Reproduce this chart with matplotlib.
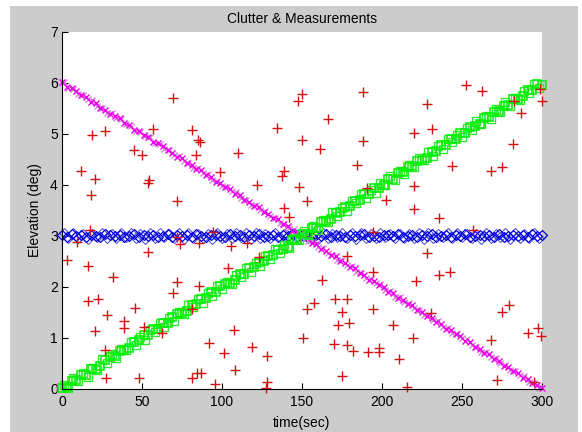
import matplotlib.pyplot as plt
from matplotlib.patches import Rectangle

plt.rcParams['font.family'] = ['Liberation Sans', 'DejaVu Sans']

# sample times (sec): measurement scans and the interleaved estimates
t = list(range(0, 301, 3))
t2 = list(range(1, 300, 3))

# rising target (green squares)
elev_up = [0.02, 0.04, 0.15, 0.17, 0.27, 0.28, 0.39, 0.40, 0.45, 0.57,
           0.62, 0.64, 0.75, 0.76, 0.81, 0.93, 0.95, 1.05, 1.06, 1.17,
           1.18, 1.29, 1.30, 1.41, 1.47, 1.48, 1.53, 1.65, 1.66, 1.77,
           1.78, 1.89, 1.90, 2.01, 2.06, 2.08, 2.13, 2.25, 2.26, 2.37,
           2.38, 2.49, 2.50, 2.61, 2.62, 2.73, 2.75, 2.79, 2.91, 2.92,
           3.03, 3.04, 3.15, 3.16, 3.27, 3.28, 3.33, 3.45, 3.46, 3.57,
           3.58, 3.69, 3.70, 3.81, 3.82, 3.93, 3.94, 3.99, 4.11, 4.12,
           4.23, 4.24, 4.35, 4.36, 4.47, 4.48, 4.53, 4.65, 4.66, 4.77,
           4.78, 4.89, 4.90, 5.01, 5.02, 5.13, 5.14, 5.19, 5.31, 5.32,
           5.43, 5.44, 5.55, 5.56, 5.67, 5.68, 5.73, 5.85, 5.86, 5.97,
           5.96]
elev_up2 = [0.07, 0.02, 0.21, 0.16, 0.32, 0.24, 0.42, 0.38, 0.58, 0.51,
            0.68, 0.61, 0.79, 0.76, 0.93, 0.86, 1.02, 0.96, 1.16, 1.11,
            1.30, 1.22, 1.39, 1.33, 1.50, 1.46, 1.65, 1.60, 1.76, 1.68,
            1.87, 1.82, 2.02, 1.95, 2.10, 2.05, 2.24, 2.20, 2.37, 2.30,
            2.47, 2.40, 2.60, 2.55, 2.74, 2.66, 2.82, 2.77, 2.95, 2.92,
            3.09, 3.02, 3.20, 3.12, 3.30, 3.27, 3.46, 3.38, 3.55, 3.49,
            3.68, 3.64, 3.81, 3.74, 3.90, 3.84, 4.04, 3.99, 4.18, 4.10,
            4.27, 4.21, 4.38, 4.34, 4.53, 4.48, 4.64, 4.56, 4.75, 4.70,
            4.90, 4.83, 4.98, 4.93, 5.12, 5.08, 5.25, 5.18, 5.35, 5.28,
            5.48, 5.43, 5.62, 5.54, 5.70, 5.65, 5.83, 5.80, 5.97, 5.90]

# falling target (magenta x)
elev_down = [6.01, 5.92, 5.89, 5.84, 5.75, 5.71, 5.62, 5.60, 5.51, 5.47,
             5.38, 5.35, 5.30, 5.21, 5.17, 5.08, 5.06, 4.97, 4.93, 4.84,
             4.81, 4.76, 4.67, 4.63, 4.54, 4.52, 4.43, 4.39, 4.30, 4.28,
             4.19, 4.15, 4.06, 4.04, 3.95, 3.91, 3.82, 3.80, 3.71, 3.67,
             3.58, 3.56, 3.47, 3.43, 3.34, 3.32, 3.23, 3.19, 3.10, 3.08,
             2.99, 2.95, 2.86, 2.84, 2.75, 2.71, 2.62, 2.60, 2.51, 2.47,
             2.38, 2.36, 2.27, 2.23, 2.14, 2.12, 2.03, 1.99, 1.90, 1.88,
             1.79, 1.75, 1.66, 1.64, 1.55, 1.51, 1.42, 1.40, 1.31, 1.27,
             1.18, 1.16, 1.07, 1.03, 0.94, 0.92, 0.83, 0.79, 0.70, 0.68,
             0.59, 0.55, 0.46, 0.44, 0.35, 0.31, 0.22, 0.20, 0.11, 0.07,
             0.02]
elev_down2 = [6.01, 5.90, 5.87, 5.77, 5.76, 5.67, 5.65, 5.54, 5.51, 5.41,
              5.40, 5.31, 5.29, 5.18, 5.15, 5.05, 5.04, 4.95, 4.93, 4.82,
              4.79, 4.69, 4.68, 4.59, 4.57, 4.46, 4.43, 4.33, 4.32, 4.23,
              4.21, 4.10, 4.07, 3.97, 3.96, 3.87, 3.85, 3.74, 3.71, 3.61,
              3.60, 3.51, 3.49, 3.38, 3.35, 3.25, 3.24, 3.15, 3.13, 3.02,
              2.99, 2.89, 2.88, 2.79, 2.77, 2.66, 2.63, 2.53, 2.52, 2.43,
              2.41, 2.30, 2.27, 2.17, 2.16, 2.07, 2.05, 1.94, 1.91, 1.81,
              1.80, 1.71, 1.69, 1.58, 1.55, 1.45, 1.44, 1.35, 1.33, 1.22,
              1.19, 1.09, 1.08, 0.99, 0.97, 0.86, 0.83, 0.73, 0.72, 0.63,
              0.61, 0.50, 0.47, 0.37, 0.36, 0.27, 0.25, 0.14, 0.11, 0.01]

# level target (blue diamonds)
elev_flat = [3.02, 2.98, 3.03, 2.99, 3.01, 2.97, 3.02, 3.00, 2.98, 3.03,
             3.01, 2.99, 3.02, 2.97, 3.00, 3.03, 2.98, 3.01, 2.99, 3.02,
             2.98, 3.00, 3.03, 2.97, 3.01, 2.99, 3.02, 2.98, 3.03, 3.00,
             2.97, 3.01, 3.02, 2.99, 2.98, 3.03, 3.00, 3.01, 2.97, 3.02,
             2.99, 3.03, 2.98, 3.00, 3.01, 2.97, 3.02, 2.99, 3.03, 2.98,
             3.01, 3.00, 2.97, 3.02, 2.99, 3.03, 2.98, 3.01, 3.00, 2.97,
             3.02, 2.99, 3.01, 3.03, 2.98, 3.00, 2.97, 3.02, 3.01, 2.99,
             3.03, 2.98, 3.00, 3.02, 2.97, 3.01, 2.99, 3.03, 2.98, 3.00,
             3.02, 2.97, 3.01, 2.99, 3.03, 2.98, 3.00, 3.02, 2.99, 3.01,
             2.97, 3.03, 2.98, 3.00, 3.02, 2.99, 3.01, 2.98, 3.03, 3.00,
             3.01]
elev_flat2 = [3.05, 2.96, 3.06, 2.95, 3.03, 2.94, 3.04, 2.97, 3.06, 2.95,
              3.04, 2.95, 3.05, 2.97, 3.06, 2.96, 3.03, 2.94, 3.05, 2.96,
              3.06, 2.97, 3.04, 2.95, 3.05, 2.94, 3.06, 2.96, 3.03, 2.95,
              3.03, 2.94, 3.06, 2.96, 3.04, 2.95, 3.05, 2.97, 3.06, 2.94,
              3.05, 2.96, 3.03, 2.95, 3.06, 2.97, 3.04, 2.94, 3.05, 2.96,
              3.04, 2.95, 3.06, 2.94, 3.05, 2.96, 3.03, 2.97, 3.06, 2.95,
              3.06, 2.94, 3.05, 2.96, 3.03, 2.95, 3.06, 2.97, 3.04, 2.96,
              3.03, 2.96, 3.04, 2.95, 3.06, 2.94, 3.05, 2.96, 3.03, 2.97,
              3.05, 2.95, 3.06, 2.97, 3.04, 2.96, 3.03, 2.94, 3.06, 2.95,
              3.04, 2.97, 3.05, 2.94, 3.06, 2.95, 3.04, 2.96, 3.05, 2.96]

# clutter returns (time, elevation)
clutter_t = [69.6, 18.5, 26.9, 57.1, 81.0, 85.2, 86.0, 45.2, 49.8, 83.5,
             11.9, 20.6, 54.4, 53.5, 98.8, 18.1, 72.1,
             149.8, 147.3, 188.3, 166.5, 134.6, 149.8, 161.3, 188.3, 109.8,
             184.2, 138.8, 137.3, 121.7, 148.3, 153.3, 138.9, 141.9, 190.4,
             202.3,
             252.3, 262.7, 228.3, 298.8, 282.7, 299.8, 286.9, 220.0, 231.0,
             282.1, 243.9, 268.1, 274.8, 220.0, 220.0, 235.8,
             257.0, 227.9, 235.8, 242.5, 221.3, 279.6, 274.8, 230.4, 207.1,
             297.3, 291.0, 299.4, 219.6, 268.1, 198.1, 198.1, 210.8, 271.7,
             295.2, 215.8,
             105.6, 115.4, 123.3, 103.9, 177.9, 194.6, 162.3, 170.6, 177.9,
             157.7, 152.9, 175.2, 194.6, 179.6, 172.7, 107.7, 150.8, 170.2,
             177.9, 182.1, 191.0, 118.5, 101.5, 128.3, 108.1, 174.8, 127.9,
             127.3, 194.2,
             17.5, 9.2, 2.9, 16.1, 53.9, 71.7, 73.8, 85.8, 94.6, 32.1,
             71.7, 69.6, 85.8, 16.1, 22.7, 45.6, 27.9, 38.8, 38.8, 81.0,
             51.3, 62.3, 20.6, 26.8, 92.1, 27.5, 48.3, 81.0, 84.2, 86.9,
             95.6]
clutter_el = [5.69, 4.98, 5.06, 5.10, 5.08, 4.87, 4.83, 4.68, 4.58, 4.58,
              4.27, 4.12, 4.09, 4.03, 4.25, 3.80, 3.68,
              5.77, 5.64, 5.82, 5.28, 5.12, 4.87, 4.69, 4.85, 4.63,
              4.38, 4.27, 4.17, 3.99, 3.95, 3.68, 3.54, 3.37, 3.93,
              3.70,
              5.96, 5.84, 5.59, 5.88, 5.64, 5.64, 5.40, 5.02, 5.10,
              4.79, 4.37, 4.27, 4.35, 3.98, 3.52, 3.34,
              3.11, 2.66, 2.24, 2.30, 2.12, 1.64, 1.50, 1.49, 1.25,
              1.20, 1.10, 1.04, 0.99, 0.96, 0.81, 0.72, 0.59, 0.18,
              0.14, 0.03,
              2.80, 2.85, 2.59, 2.36, 2.61, 2.30, 2.13, 1.77, 1.77,
              1.68, 1.57, 1.50, 1.57, 1.30, 1.25, 1.15, 0.99, 0.88,
              0.86, 0.75, 0.73, 0.83, 0.70, 0.65, 0.37, 0.25, 0.14,
              0.01, 3.08,
              3.11, 2.87, 2.52, 2.41, 2.69, 2.98, 2.83, 2.85, 3.08, 2.20,
              2.09, 1.87, 2.02, 1.72, 1.77, 1.58, 1.45, 1.33, 1.19, 1.57,
              1.22, 1.09, 1.14, 0.76, 0.91, 0.21, 0.21, 0.21, 0.31, 0.31,
              0.10]

W, H = 582, 432
fig = plt.figure(figsize=(W / 100, H / 100), dpi=100, facecolor='white')
# grey figure panel with a thin white margin, kept behind the axes
panel = Rectangle((10 / W, 0), 568 / W, 426 / H, transform=fig.transFigure,
                  facecolor='#cccccc', edgecolor='none', zorder=-10)
fig.add_artist(panel)
ax = fig.add_axes([62 / W, 1 - 389 / H, 480 / W, 357.5 / H])
ax.set_zorder(1)
ax.set_facecolor('white')

ax.plot(t2, elev_flat2, 'D', color='#5a5ad8', mfc='none', ms=5, mew=0.8, clip_on=False)
ax.plot(t, elev_flat, 'D', color='#0000e0', mfc='none', ms=5, mew=0.9, clip_on=False)
ax.plot(t2, elev_down2, 'x', color='#d58ad5', ms=5, mew=1.0, clip_on=False)
ax.plot(t, elev_down, 'x', color='#ee00ee', ms=5, mew=1.0, clip_on=False)
ax.plot(t2, elev_up2, 's', color='#33e633', mfc='none', ms=6.3, mew=1.0, clip_on=False)
ax.plot(t, elev_up, 's', color='#00ee00', mfc='none', ms=6.3, mew=1.1, clip_on=False)
ax.plot(clutter_t, clutter_el, '+', color='#d41010', ms=6.5, mew=1.0, clip_on=False)

ax.set_xlim(0, 300)
ax.set_ylim(0, 7)
ax.set_xticks([0, 50, 100, 150, 200, 250, 300])
ax.set_yticks([0, 1, 2, 3, 4, 5, 6, 7])
ax.spines['top'].set_visible(False)
ax.spines['right'].set_visible(False)
ax.tick_params(direction='in', length=4, top=False, right=False, labelsize=10)
ax.tick_params(axis='x', pad=4)
ax.tick_params(axis='y', pad=3)

ax.set_title('Clutter & Measurements', fontsize=10, pad=6)
ax.set_xlabel('time(sec)', fontsize=10, labelpad=5)
ax.set_ylabel('Elevation (deg)', fontsize=10, labelpad=6)

fig.savefig('out.png', dpi=100)
